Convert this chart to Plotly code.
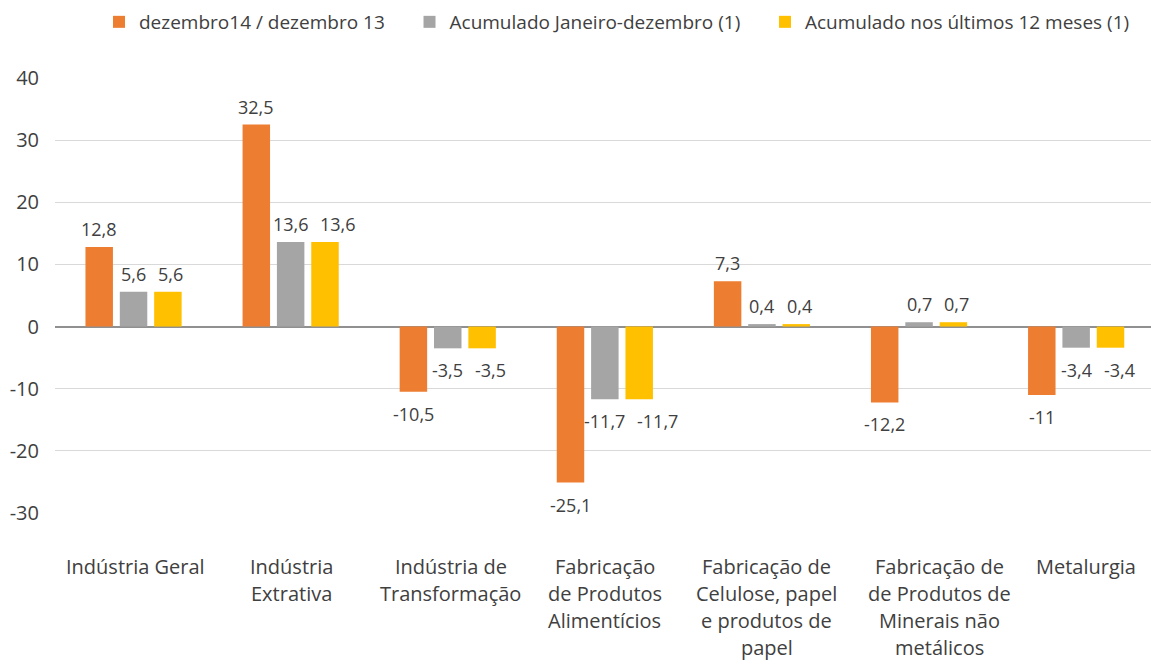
import plotly.graph_objects as go

categories = ["Indústria Geral", "Indústria<br>Extrativa", "Indústria de<br>Transformação",
              "Fabricação<br>de Produtos<br>Alimentícios",
              "Fabricação de<br>Celulose, papel<br>e produtos de<br>papel",
              "Fabricação de<br>de Produtos de<br>Minerais não<br>metálicos", "Metalurgia"]
series_names = ["dezembro14 / dezembro 13", "Acumulado Janeiro-dezembro (1)",
                "Acumulado nos últimos 12 meses (1)"]
dez = [12.8, 32.5, -10.5, -25.1, 7.3, -12.2, -11]
acum_ano = [5.6, 13.6, -3.5, -11.7, 0.4, 0.7, -3.4]
acum_12m = [5.6, 13.6, -3.5, -11.7, 0.4, 0.7, -3.4]
y_ticks = [-30, -20, -10, 0, 10, 20, 30, 40]
y_ticktext = ["-30", "-20", "-10", "0", "10", "20", "30", "40"]

colors = ["#ED7D31", "#A5A5A5", "#FFC000"]
TXT = "#404040"
FONT = "Open Sans"

W, H = 1151, 664
ML, MR, MT, MB = 55, 0, 78, 151
CAT_PX = 157.1                       # category pitch in the reference
BARGAP, GROUPGAP = 0.344, 0.2
LABEL_FS = 18
CAT_LABEL_NUDGE = [2, 1, 3, 0, 5, 20, 10]   # horizontal offsets of category captions (px)
n_cat, n_ser = len(categories), len(series_names)
plot_h = H - MT - MB
px_per_unit = plot_h / (y_ticks[-1] - y_ticks[0])
x_end = (W - ML - MR) / CAT_PX - 0.5
slot_px = CAT_PX * (1 - BARGAP) / n_ser


def fmt(v):
    return f"{v:g}".replace(".", ",")


def text_w(s, fs):
    # rough Open Sans advance widths
    w = 0.0
    for ch in s:
        w += 0.25 if ch == "," else (0.32 if ch == "-" else 0.572)
    return w * fs


all_series = [dez, acum_ano, acum_12m]
fig = go.Figure()
for j, (name, vals, col) in enumerate(zip(series_names, all_series, colors)):
    fig.add_trace(go.Bar(
        x=list(range(n_cat)), y=vals, name=name + "\u00a0" * 4,
        marker=dict(color=col, line=dict(width=0)),
    ))

# data labels: centred over each bar, nudged right when neighbours would collide
for i in range(n_cat):
    prev = None
    for j in range(n_ser):
        v = all_series[j][i]
        s = fmt(v)
        w = text_w(s, LABEL_FS)
        centre = (j - (n_ser - 1) / 2) * slot_px
        if prev is not None:
            pc, pw, pv = prev
            same_row = ((pv >= 0) == (v >= 0)) and abs(pv - v) * px_per_unit < 24
            need = pc + (pw + w) / 2 + 12
            if same_row and centre < need:
                centre = need
        prev = (centre, w, v)
        fig.add_annotation(x=i, y=v, xref="x", yref="y", text=s, showarrow=False,
                           xshift=centre, yanchor="middle",
                           yshift=18 if v >= 0 else -22,
                           font=dict(size=LABEL_FS, color=TXT, family=FONT))

# category labels, one annotation per line for Excel-like line spacing
for i, cat in enumerate(categories):
    for k, line in enumerate(cat.split("<br>")):
        fig.add_annotation(x=i, y=0, xref="x", yref="paper", text=line,
                           showarrow=False, yanchor="middle",
                           xshift=CAT_LABEL_NUDGE[i],
                           yshift=-(53 + 27.3 * k),
                           font=dict(size=20, color=TXT, family=FONT))

fig.update_layout(
    width=W, height=H,
    paper_bgcolor="white", plot_bgcolor="white",
    margin=dict(l=ML, r=MR, t=MT, b=MB, autoexpand=False),
    barmode="group", bargap=BARGAP, bargroupgap=GROUPGAP,
    font=dict(family=FONT, color=TXT),
    legend=dict(orientation="h", x=0.086, xanchor="left", xref="container",
                y=0.9955, yanchor="top", yref="container",
                font=dict(size=19, color=TXT), itemwidth=30, traceorder="normal"),
    showlegend=True,
)
fig.update_xaxes(range=[-0.5, x_end], showticklabels=False,
                 showgrid=False, zeroline=False, showline=False)
fig.update_yaxes(range=[-30, 40], tickvals=y_ticks, ticktext=y_ticktext,
                 showgrid=True, gridcolor="#D9D9D9",
                 gridwidth=1, zeroline=True, zerolinecolor="#909090", zerolinewidth=2,
                 tickfont=dict(size=20, color=TXT, family=FONT), ticklabelstandoff=15)

fig.write_html("out.html", config={"displayModeBar": False},
               post_script="document.body.style.margin='0';")
